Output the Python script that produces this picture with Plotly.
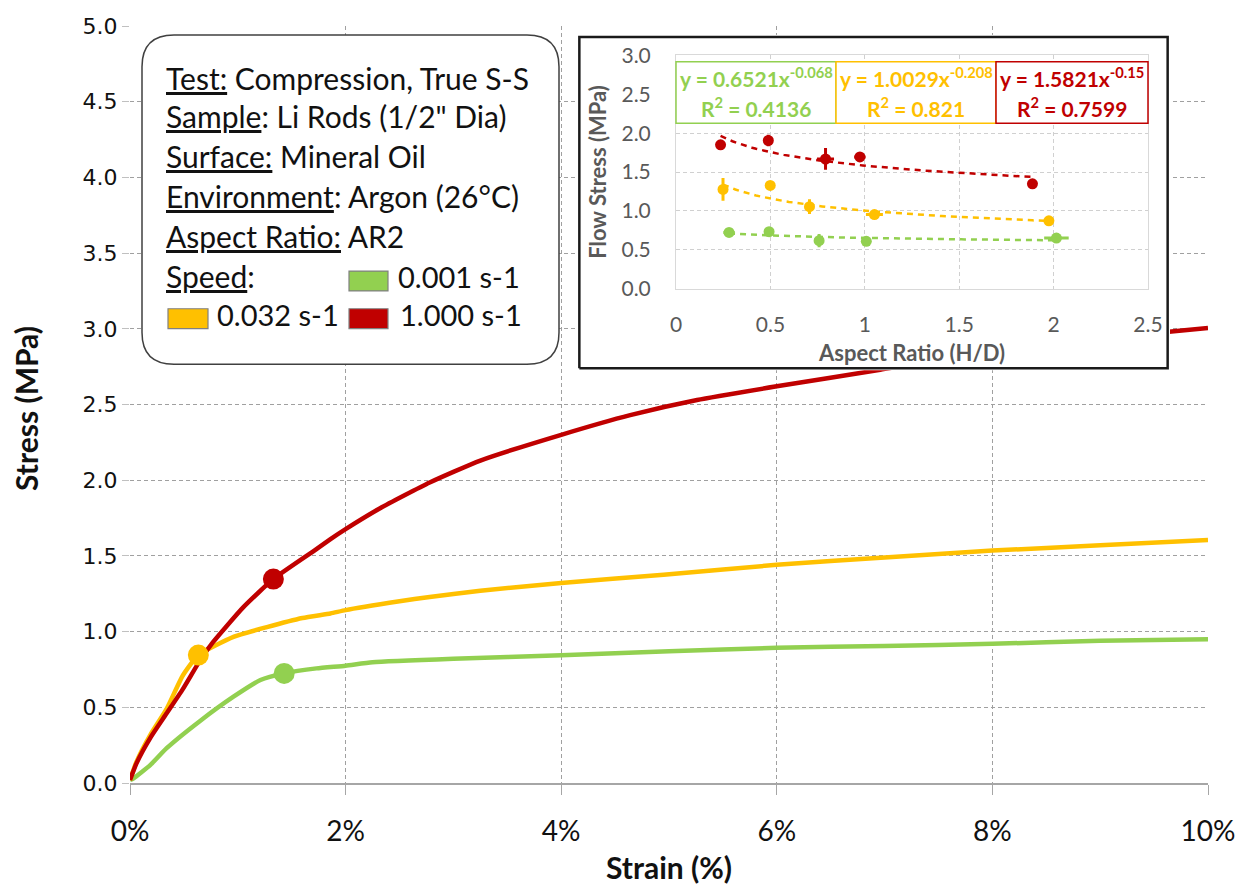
import numpy as np
import plotly.graph_objects as go

# ---------------- main chart data (strain %, stress MPa) ----------------
red_strain = [0, 0.06, 0.19, 0.34, 0.49, 0.65, 0.77, 1.05, 1.33, 1.70, 1.86, 2.0, 2.32, 2.78, 3.25, 4.0, 4.64, 5.26, 6.0, 6.96, 8.0, 9.0, 9.59, 10.0]
red_stress = [0.02, 0.13, 0.30, 0.46, 0.62, 0.81, 0.93, 1.16, 1.347, 1.53, 1.611, 1.677, 1.815, 1.985, 2.13, 2.30, 2.43, 2.53, 2.62, 2.73, 2.86, 2.94, 2.977, 3.005]

yel_strain = [0, 0.06, 0.19, 0.34, 0.49, 0.634, 0.96, 1.27, 1.6, 1.86, 2.0, 2.5, 2.78, 3.25, 4.0, 4.95, 6.0, 7.0, 8.0, 9.0, 10.0]
yel_stress = [0.02, 0.14, 0.32, 0.49, 0.71, 0.845, 0.965, 1.03, 1.09, 1.12, 1.142, 1.20, 1.229, 1.27, 1.321, 1.376, 1.441, 1.49, 1.535, 1.57, 1.605]

grn_strain = [0, 0.03, 0.19, 0.34, 0.65, 0.96, 1.21, 1.43, 1.73, 2.0, 2.25, 3.0, 4.0, 5.0, 6.0, 7.0, 8.0, 9.0, 10.0]
grn_stress = [0.02, 0.03, 0.12, 0.23, 0.41, 0.57, 0.68, 0.724, 0.757, 0.775, 0.797, 0.82, 0.843, 0.87, 0.893, 0.905, 0.919, 0.94, 0.95]

# flow-stress points marked on the curves
mark_strain = {"red": 1.33, "yel": 0.634, "grn": 1.43}
mark_stress = {"red": 1.347, "yel": 0.845, "grn": 0.724}

# ---------------- inset data (aspect ratio vs flow stress) ----------------
red_ar = [0.236, 0.489, 0.792, 0.974, 1.888]
red_fs = [1.85, 1.906, 1.668, 1.694, 1.349]
red_xerr = [0.0, 0.0, 0.045, 0.03, 0.0]
red_yerr = [0.0, 0.075, 0.14, 0.02, 0.0]

yel_ar = [0.249, 0.499, 0.707, 1.051, 1.975]
yel_fs = [1.277, 1.328, 1.055, 0.953, 0.872]
yel_xerr = [0.01, 0.0, 0.01, 0.045, 0.02]
yel_yerr = [0.145, 0.02, 0.095, 0.02, 0.02]

grn_ar = [0.281, 0.493, 0.758, 1.008, 2.015]
grn_fs = [0.723, 0.732, 0.617, 0.609, 0.651]
grn_xerr = [0.03, 0.01, 0.01, 0.02, 0.065]
grn_yerr = [0.03, 0.03, 0.085, 0.02, 0.02]

# power-law fits shown on chart: y = a * x^b
fit_a = {"grn": 0.6521, "yel": 1.0029, "red": 1.5821}
fit_b = {"grn": -0.068, "yel": -0.208, "red": -0.15}
fit_r2 = {"grn": "0.4136", "yel": "0.821", "red": "0.7599"}

RED, YEL, GRN = "#C00000", "#FFC000", "#92D050"
GRAY = "#595959"

W, H = 1247, 888
ML, MR, MT, MB = 130, 39, 20, 105
PW, PH = W - ML - MR, H - MT - MB


def px2x(px):
    return (px - ML) / PW


def px2y(py):
    return (H - MB - py) / PH


fig = go.Figure()

# main curves
for xs, ys, c in [(grn_strain, grn_stress, GRN), (yel_strain, yel_stress, YEL), (red_strain, red_stress, RED)]:
    fig.add_trace(go.Scatter(x=xs, y=ys, mode="lines", line=dict(color=c, width=4.5, shape="spline", smoothing=0.5),
                             hoverinfo="skip", showlegend=False))
for k, c in [("yel", YEL), ("grn", GRN), ("red", RED)]:
    fig.add_trace(go.Scatter(x=[mark_strain[k]], y=[mark_stress[k]], mode="markers",
                             marker=dict(color=c, size=21), showlegend=False, hoverinfo="skip"))

# inset frame (white panel) on its own subplot so it covers the main curves
fig.add_trace(go.Scatter(x=[0, 1, 1, 0, 0], y=[0, 0, 1, 1, 0], mode="lines", fill="toself",
                         fillcolor="white", line=dict(color="#1a1a1a", width=2.5),
                         xaxis="x2", yaxis="y2", showlegend=False, hoverinfo="skip"))

# inset traces
for k, xs, ys, xe, ye, c in [("grn", grn_ar, grn_fs, grn_xerr, grn_yerr, GRN),
                             ("yel", yel_ar, yel_fs, yel_xerr, yel_yerr, YEL),
                             ("red", red_ar, red_fs, red_xerr, red_yerr, RED)]:
    xf = np.linspace(min(xs), max(xs), 80)
    yf = fit_a[k] * xf ** fit_b[k]
    fig.add_trace(go.Scatter(x=xf, y=yf, mode="lines", line=dict(color=c, width=2.5, dash="6px,5px"),
                             xaxis="x3", yaxis="y3", showlegend=False, hoverinfo="skip"))
    fig.add_trace(go.Scatter(x=xs, y=ys, mode="markers", marker=dict(color=c, size=11),
                             error_x=dict(type="data", array=xe, color=c, thickness=3, width=0),
                             error_y=dict(type="data", array=ye, color=c, thickness=3, width=0),
                             xaxis="x3", yaxis="y3", showlegend=False, hoverinfo="skip"))

GRID = "#A0A0A0"
inset_dom_x = [px2x(676), px2x(1148)]
inset_dom_y = [px2y(284.7), px2y(49.7)]
frame_dom_x = [px2x(577), px2x(1170)]
frame_dom_y = [px2y(367), px2y(29)]

fig.update_layout(
    width=W, height=H, margin=dict(l=ML, r=MR, t=MT, b=MB),
    paper_bgcolor="white", plot_bgcolor="white",
    xaxis=dict(domain=[0, 1], range=[0, 10], dtick=2, ticksuffix="%", showgrid=True, gridcolor=GRID,
               griddash="4px,3px", gridwidth=1, zeroline=False, showline=True, linecolor="#A6A6A6",
               linewidth=2, ticks="outside", ticklen=10, tickcolor="#A6A6A6",
               tickfont=dict(family="Lato", size=28, color="#111"), ticklabelstandoff=12),
    yaxis=dict(domain=[0, 1], range=[0, 5], dtick=0.5, tickformat=".1f", showgrid=True, gridcolor=GRID,
               griddash="4px,3px", gridwidth=1, zeroline=False, showline=False, ticks="outside",
               ticklen=7, tickcolor="#C0C0C0", tickfont=dict(family="DejaVu Sans", size=22, color="#111")),
    xaxis2=dict(domain=frame_dom_x, range=[-0.004, 1.004], visible=False, anchor="y2", fixedrange=True),
    yaxis2=dict(domain=frame_dom_y, range=[-0.006, 1.006], visible=False, anchor="x2", fixedrange=True),
    xaxis3=dict(domain=inset_dom_x, range=[0, 2.5], dtick=0.5, anchor="y3", showgrid=True, gridcolor="#D0D0D0",
                griddash="4px,3px", zeroline=False, showline=True, mirror=True, linecolor="#D9D9D9",
                ticks="", tickfont=dict(family="Lato", size=21, color=GRAY), ticklabelstandoff=17),
    yaxis3=dict(domain=inset_dom_y, range=[0, 3], dtick=0.5, tickformat=".1f", anchor="x3", showgrid=True,
                gridcolor="#D0D0D0", griddash="4px,3px", zeroline=False, showline=True, mirror=True,
                linecolor="#D9D9D9", ticks="", tickfont=dict(family="Lato", size=21, color=GRAY),
                ticklabelstandoff=20),
)

shapes = []
# rounded info box
x0, x1, y0, y1 = 142, 559, 29, 361
r = 32
bx = lambda v: px2x(v)
by = lambda v: px2y(v)
path = (f"M {bx(x0 + r)},{by(y0)} L {bx(x1 - r)},{by(y0)} Q {bx(x1)},{by(y0)} {bx(x1)},{by(y0 + r)} "
        f"L {bx(x1)},{by(y1 - r)} Q {bx(x1)},{by(y1)} {bx(x1 - r)},{by(y1)} "
        f"L {bx(x0 + r)},{by(y1)} Q {bx(x0)},{by(y1)} {bx(x0)},{by(y1 - r)} "
        f"L {bx(x0)},{by(y0 + r)} Q {bx(x0)},{by(y0)} {bx(x0 + r)},{by(y0)} Z")
shapes.append(dict(type="path", path=path, xref="paper", yref="paper", fillcolor="white",
                   line=dict(color="#404040", width=1.5), layer="above"))
# swatches
for (sx0, sx1, sy0, sy1, c) in [(349, 388, 267, 287, GRN), (168, 208, 305, 325, YEL), (349, 388, 305, 325, RED)]:
    shapes.append(dict(type="rect", xref="paper", yref="paper", x0=px2x(sx0), x1=px2x(sx1),
                       y0=px2y(sy1), y1=px2y(sy0), fillcolor=c, line=dict(color="#808080", width=1.2),
                       layer="above"))
# equation boxes
eq_boxes = [("grn", 676, 836, GRN), ("yel", 836, 996, YEL), ("red", 996, 1148, RED)]
for k, ex0, ex1, c in eq_boxes:
    shapes.append(dict(type="rect", xref="paper", yref="paper", x0=px2x(ex0), x1=px2x(ex1),
                       y0=px2y(118), y1=px2y(56), fillcolor="white", line=dict(color=c, width=1.5),
                       layer="above"))
fig.update_layout(shapes=shapes)

ann = []
F = "Lato"
# axis titles
ann.append(dict(text="<b>Strain (%)</b>", x=px2x(669), y=px2y(868), xref="paper", yref="paper",
                showarrow=False, font=dict(family=F, size=30, color="#111"), xanchor="center", yanchor="middle"))
ann.append(dict(text="<b>Stress (MPa)</b>", x=px2x(26), y=px2y(406), xref="paper", yref="paper",
                showarrow=False, textangle=-90, font=dict(family=F, size=30, color="#111"),
                xanchor="center", yanchor="middle"))
ann.append(dict(text="<b>Aspect Ratio (H/D)</b>", x=px2x(911), y=px2y(349), xref="paper", yref="paper",
                showarrow=False, font=dict(family=F, size=22, color=GRAY), xanchor="center", yanchor="middle"))
ann.append(dict(text="<b>Flow Stress (MPa)</b>", x=px2x(598), y=px2y(167), xref="paper", yref="paper",
                showarrow=False, textangle=-90, font=dict(family=F, size=22, color=GRAY),
                xanchor="center", yanchor="middle"))

info_lines = [
    ("<u>Test:</u> Compression, True S-S", 76),
    ("<u>Sample</u>: Li Rods (1/2\" Dia)", 115),
    ("<u>Surface:</u> Mineral Oil", 155),
    ("<u>Environment</u>: Argon (26°C)", 195),
    ("<u>Aspect Ratio:</u> AR2", 236),
    ("<u>Speed</u>:", 276),
]
DY = -4
for t, yy in info_lines:
    ann.append(dict(text=t, x=px2x(164), y=px2y(yy + DY), xref="paper", yref="paper", showarrow=False,
                    font=dict(family=F, size=30, color="#111"), xanchor="left", yanchor="middle"))
for t, xx, yy in [("0.001 s-1", 396, 276), ("0.032 s-1", 215, 315), ("1.000 s-1", 398, 315)]:
    ann.append(dict(text=t, x=px2x(xx), y=px2y(yy + DY), xref="paper", yref="paper", showarrow=False,
                    font=dict(family=F, size=29, color="#111"), xanchor="left", yanchor="middle"))

for k, ex0, ex1, c in eq_boxes:
    cx = px2x((ex0 + ex1) / 2)
    ann.append(dict(text=f"<b>y = {fit_a[k]}x<sup>{fit_b[k]}</sup></b>", x=cx, y=px2y(71), xref="paper",
                    yref="paper", showarrow=False, font=dict(family=F, size=21, color=c),
                    xanchor="center", yanchor="middle"))
    ann.append(dict(text=f"<b>R<sup>2</sup> = {fit_r2[k]}</b>", x=cx, y=px2y(102), xref="paper",
                    yref="paper", showarrow=False, font=dict(family=F, size=21, color=c),
                    xanchor="center", yanchor="middle"))
fig.update_layout(annotations=ann)

fig.write_html("out.html")
